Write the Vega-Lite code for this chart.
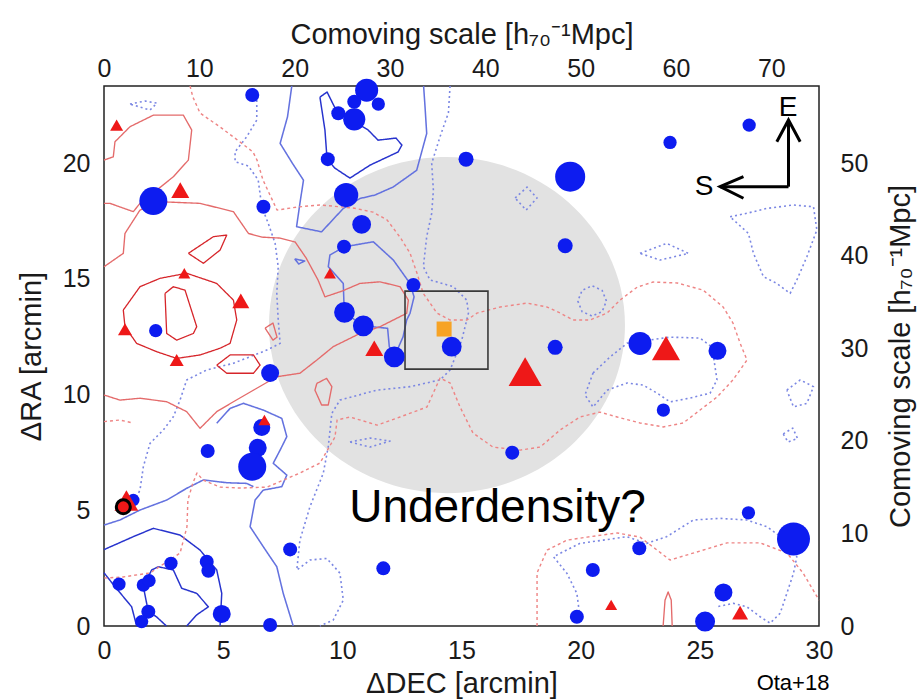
{
  "$schema": "https://vega.github.io/schema/vega-lite/v6.json",
  "width": 715,
  "height": 540,
  "autosize": {"type": "none"},
  "padding": {"left": 104, "top": 86, "right": 99, "bottom": 73},
  "background": "white",
  "config": {
    "view": {"stroke": "#222222", "strokeWidth": 1.5, "fill": "white"},
    "font": "Liberation Sans",
    "axis": {
      "labelFont": "Liberation Sans", "labelFontSize": 25, "labelColor": "#1a1a1a",
      "titleFont": "Liberation Sans", "titleFontSize": 29, "titleFontWeight": "normal", "titleColor": "#1a1a1a",
      "domain": false, "grid": false, "ticks": false,
      "labelOverlap": false, "labelFlush": false, "labelBound": false
    }
  },
  "datasets": {
    "galaxies": [
      {"type":"LAE","x":6.22,"y":22.94,"L":1.0},
      {"type":"LAE","x":11.02,"y":23.15,"L":2.7},
      {"type":"LAE","x":10.5,"y":22.65,"L":1.0},
      {"type":"LAE","x":11.51,"y":22.55,"L":0.9},
      {"type":"LAE","x":9.83,"y":22.15,"L":1.0},
      {"type":"LAE","x":10.5,"y":21.89,"L":2.5},
      {"type":"LAE","x":9.39,"y":20.17,"L":1.0},
      {"type":"LAE","x":10.16,"y":18.62,"L":3.0},
      {"type":"LAE","x":10.81,"y":17.35,"L":1.8},
      {"type":"LAE","x":10.07,"y":16.39,"L":1.0},
      {"type":"LAE","x":12.98,"y":14.73,"L":1.0},
      {"type":"LAE","x":10.09,"y":13.55,"L":2.2},
      {"type":"LAE","x":10.88,"y":12.97,"L":2.2},
      {"type":"LAE","x":12.18,"y":11.63,"L":2.2},
      {"type":"LAE","x":14.59,"y":12.07,"L":2.0},
      {"type":"LAE","x":15.19,"y":20.17,"L":1.15},
      {"type":"LAE","x":19.56,"y":19.41,"L":4.6},
      {"type":"LAE","x":19.35,"y":16.43,"L":1.15},
      {"type":"LAE","x":18.93,"y":12.04,"L":1.15},
      {"type":"LAE","x":6.69,"y":18.11,"L":1.0},
      {"type":"LAE","x":6.97,"y":10.93,"L":1.65},
      {"type":"LAE","x":2.07,"y":18.36,"L":4.0},
      {"type":"LAE","x":2.17,"y":12.76,"L":0.9},
      {"type":"LAE","x":27.07,"y":21.64,"L":0.9},
      {"type":"LAE","x":23.75,"y":20.89,"L":0.9},
      {"type":"LAE","x":22.49,"y":12.21,"L":2.7},
      {"type":"LAE","x":25.74,"y":11.89,"L":1.65},
      {"type":"LAE","x":23.47,"y":9.33,"L":0.9},
      {"type":"LAE","x":27.04,"y":4.89,"L":0.9},
      {"type":"LAE","x":28.93,"y":3.76,"L":5.56},
      {"type":"LAE","x":22.46,"y":3.36,"L":1.0},
      {"type":"LAE","x":20.51,"y":2.42,"L":1.0},
      {"type":"LAE","x":25.99,"y":1.45,"L":1.65},
      {"type":"LAE","x":19.84,"y":0.4,"L":1.0},
      {"type":"LAE","x":25.22,"y":0.19,"L":2.04},
      {"type":"LAE","x":17.13,"y":7.49,"L":1.0},
      {"type":"LAE","x":11.72,"y":2.49,"L":1.0},
      {"type":"LAE","x":7.81,"y":3.31,"L":1.0},
      {"type":"LAE","x":6.97,"y":0.04,"L":1.0},
      {"type":"LAE","x":6.62,"y":8.58,"L":1.47},
      {"type":"LAE","x":4.35,"y":7.56,"L":1.0},
      {"type":"LAE","x":6.45,"y":7.7,"L":1.65},
      {"type":"LAE","x":6.22,"y":6.88,"L":4.0},
      {"type":"LAE","x":1.23,"y":5.44,"L":0.8},
      {"type":"LAE","x":2.81,"y":2.71,"L":0.9},
      {"type":"LAE","x":0.63,"y":1.81,"L":0.9},
      {"type":"LAE","x":1.65,"y":1.77,"L":0.9},
      {"type":"LAE","x":1.89,"y":1.96,"L":0.9},
      {"type":"LAE","x":4.31,"y":2.78,"L":1.0},
      {"type":"LAE","x":4.38,"y":2.39,"L":1.0},
      {"type":"LAE","x":1.86,"y":0.62,"L":1.0},
      {"type":"LAE","x":1.58,"y":0.19,"L":0.9},
      {"type":"LAE","x":4.94,"y":0.52,"L":1.65},
      {"type":"LBG","x":0.53,"y":21.64,"L":0.86},
      {"type":"LBG","x":3.2,"y":18.83,"L":1.65},
      {"type":"LBG","x":3.37,"y":15.24,"L":0.73},
      {"type":"LBG","x":5.74,"y":14.05,"L":1.47},
      {"type":"LBG","x":0.88,"y":12.82,"L":1.0},
      {"type":"LBG","x":3.05,"y":11.49,"L":1.0},
      {"type":"LBG","x":9.48,"y":15.24,"L":0.73},
      {"type":"LBG","x":11.34,"y":12.0,"L":1.65},
      {"type":"LBG","x":17.67,"y":10.99,"L":5.56},
      {"type":"LBG","x":23.58,"y":12.0,"L":4.0},
      {"type":"LBG","x":21.28,"y":0.91,"L":0.73},
      {"type":"LBG","x":26.69,"y":0.58,"L":1.3},
      {"type":"LBG","x":6.73,"y":8.9,"L":0.73},
      {"type":"LBG","x":0.94,"y":5.42,"L":2.9}
    ],
    "contours": [
      {"c":"LAE-high","g":"A1","x":9.06,"y":22.85},{"c":"LAE-high","g":"A1","x":9.36,"y":23.07},{"c":"LAE-high","g":"A1","x":9.78,"y":22.2},{"c":"LAE-high","g":"A1","x":10.41,"y":21.86},{"c":"LAE-high","g":"A1","x":11.08,"y":21.43},{"c":"LAE-high","g":"A1","x":11.5,"y":20.99},{"c":"LAE-high","g":"A1","x":12.25,"y":21.08},{"c":"LAE-high","g":"A1","x":12.5,"y":20.78},{"c":"LAE-high","g":"A1","x":12.34,"y":20.48},{"c":"LAE-high","g":"A1","x":11.16,"y":19.91},{"c":"LAE-high","g":"A1","x":10.32,"y":19.35},{"c":"LAE-high","g":"A1","x":9.69,"y":19.78},{"c":"LAE-high","g":"A1","x":9.36,"y":20.17},{"c":"LAE-high","g":"A1","x":9.27,"y":21.43},{"c":"LAE-high","g":"A1","x":9.06,"y":22.85},
      {"c":"LAE-high","g":"A2a","x":0,"y":3.3},{"c":"LAE-high","g":"A2a","x":1.23,"y":3.86},{"c":"LAE-high","g":"A2a","x":2.07,"y":4.22},{"c":"LAE-high","g":"A2a","x":3.19,"y":3.93},{"c":"LAE-high","g":"A2a","x":4.03,"y":3.28},{"c":"LAE-high","g":"A2a","x":4.73,"y":2.42},{"c":"LAE-high","g":"A2a","x":4.94,"y":1.41},{"c":"LAE-high","g":"A2a","x":4.87,"y":0},
      {"c":"LAE-high","g":"A2b","x":0,"y":2.3},{"c":"LAE-high","g":"A2b","x":0.46,"y":1.7},{"c":"LAE-high","g":"A2b","x":1.16,"y":0.83},{"c":"LAE-high","g":"A2b","x":1.37,"y":0},
      {"c":"LAE-high","g":"A2c","x":3.47,"y":0},{"c":"LAE-high","g":"A2c","x":3.89,"y":0.48},{"c":"LAE-high","g":"A2c","x":4.38,"y":0.83},{"c":"LAE-high","g":"A2c","x":3.89,"y":1.41},{"c":"LAE-high","g":"A2c","x":3.26,"y":1.63},{"c":"LAE-high","g":"A2c","x":2.91,"y":2.42},{"c":"LAE-high","g":"A2c","x":2.28,"y":2.56},{"c":"LAE-high","g":"A2c","x":2.0,"y":2.42},{"c":"LAE-high","g":"A2c","x":1.65,"y":1.7},{"c":"LAE-high","g":"A2c","x":1.86,"y":0.62},{"c":"LAE-high","g":"A2c","x":2.2,"y":0.4},{"c":"LAE-high","g":"A2c","x":2.62,"y":0},
      {"c":"LAE-mid","g":"B1","x":7.88,"y":23.33},{"c":"LAE-mid","g":"B1","x":7.7,"y":22.0},{"c":"LAE-mid","g":"B1","x":7.39,"y":20.85},{"c":"LAE-mid","g":"B1","x":7.9,"y":20.0},{"c":"LAE-mid","g":"B1","x":8.37,"y":19.26},{"c":"LAE-mid","g":"B1","x":8.22,"y":18.26},{"c":"LAE-mid","g":"B1","x":8.08,"y":17.25},{"c":"LAE-mid","g":"B1","x":9.13,"y":17.03},{"c":"LAE-mid","g":"B1","x":10.04,"y":18.04},{"c":"LAE-mid","g":"B1","x":10.74,"y":18.47},{"c":"LAE-mid","g":"B1","x":11.37,"y":18.62},{"c":"LAE-mid","g":"B1","x":12.14,"y":18.97},{"c":"LAE-mid","g":"B1","x":13.12,"y":19.69},{"c":"LAE-mid","g":"B1","x":13.54,"y":21.28},{"c":"LAE-mid","g":"B1","x":13.47,"y":22.43},{"c":"LAE-mid","g":"B1","x":13.41,"y":23.33},
      {"c":"LAE-mid","g":"B2","x":12.18,"y":11.63},{"c":"LAE-mid","g":"B2","x":12.55,"y":12.5},{"c":"LAE-mid","g":"B2","x":12.7,"y":13.22},{"c":"LAE-mid","g":"B2","x":12.84,"y":13.51},{"c":"LAE-mid","g":"B2","x":13.01,"y":14.22},{"c":"LAE-mid","g":"B2","x":12.84,"y":14.8},{"c":"LAE-mid","g":"B2","x":12.14,"y":15.81},{"c":"LAE-mid","g":"B2","x":11.3,"y":16.6},{"c":"LAE-mid","g":"B2","x":10.07,"y":16.38},{"c":"LAE-mid","g":"B2","x":9.48,"y":16.03},{"c":"LAE-mid","g":"B2","x":9.41,"y":15.52},{"c":"LAE-mid","g":"B2","x":10.04,"y":14.8},{"c":"LAE-mid","g":"B2","x":10.08,"y":13.55},{"c":"LAE-mid","g":"B2","x":10.88,"y":12.97},{"c":"LAE-mid","g":"B2","x":11.9,"y":12.86},{"c":"LAE-mid","g":"B2","x":11.97,"y":12.07},{"c":"LAE-mid","g":"B2","x":12.18,"y":11.63},
      {"c":"LAE-mid","g":"B3a","x":4.73,"y":8.76},{"c":"LAE-mid","g":"B3a","x":5.29,"y":9.4},{"c":"LAE-mid","g":"B3a","x":5.85,"y":9.62},{"c":"LAE-mid","g":"B3a","x":6.68,"y":9.33},{"c":"LAE-mid","g":"B3a","x":7.46,"y":8.97},{"c":"LAE-mid","g":"B3a","x":7.67,"y":8.18},{"c":"LAE-mid","g":"B3a","x":7.39,"y":7.6},{"c":"LAE-mid","g":"B3a","x":7.1,"y":7.03},{"c":"LAE-mid","g":"B3a","x":7.67,"y":6.52},{"c":"LAE-mid","g":"B3a","x":7.46,"y":6.02},{"c":"LAE-mid","g":"B3a","x":6.68,"y":5.87},{"c":"LAE-mid","g":"B3a","x":6.34,"y":5.44},{"c":"LAE-mid","g":"B3a","x":6.13,"y":4.29},{"c":"LAE-mid","g":"B3a","x":6.68,"y":3.43},{"c":"LAE-mid","g":"B3a","x":7.25,"y":2.56},{"c":"LAE-mid","g":"B3a","x":7.52,"y":1.41},{"c":"LAE-mid","g":"B3a","x":7.94,"y":0},
      {"c":"LAE-mid","g":"B3b","x":0,"y":4.36},{"c":"LAE-mid","g":"B3b","x":0.67,"y":4.58},{"c":"LAE-mid","g":"B3b","x":1.51,"y":5.01},{"c":"LAE-mid","g":"B3b","x":2.63,"y":5.44},{"c":"LAE-mid","g":"B3b","x":3.47,"y":5.95},{"c":"LAE-mid","g":"B3b","x":4.17,"y":6.31},{"c":"LAE-mid","g":"B3b","x":5.15,"y":6.19},{"c":"LAE-mid","g":"B3b","x":5.99,"y":6.16},{"c":"LAE-mid","g":"B3b","x":6.27,"y":6.02},
      {"c":"LAE-mid","g":"B5","x":8.0,"y":15.86},{"c":"LAE-mid","g":"B5","x":8.42,"y":15.77},{"c":"LAE-mid","g":"B5","x":8.17,"y":15.64},{"c":"LAE-mid","g":"B5","x":8.0,"y":15.86},
      {"c":"LAE-low","g":"C1","x":1.09,"y":22.55},{"c":"LAE-low","g":"C1","x":1.72,"y":22.68},{"c":"LAE-low","g":"C1","x":2.22,"y":22.59},{"c":"LAE-low","g":"C1","x":1.93,"y":22.29},{"c":"LAE-low","g":"C1","x":1.09,"y":22.55},
      {"c":"LAE-low","g":"C2","x":6.41,"y":22.72},{"c":"LAE-low","g":"C2","x":6.41,"y":21.86},{"c":"LAE-low","g":"C2","x":5.99,"y":21.14},{"c":"LAE-low","g":"C2","x":5.5,"y":20.49},{"c":"LAE-low","g":"C2","x":5.5,"y":20.06},{"c":"LAE-low","g":"C2","x":6.06,"y":19.87},{"c":"LAE-low","g":"C2","x":6.47,"y":19.27},{"c":"LAE-low","g":"C2","x":6.62,"y":18.11},{"c":"LAE-low","g":"C2","x":6.89,"y":17.4},{"c":"LAE-low","g":"C2","x":7.18,"y":16.53},{"c":"LAE-low","g":"C2","x":7.31,"y":15.52},{"c":"LAE-low","g":"C2","x":7.25,"y":14.37},{"c":"LAE-low","g":"C2","x":7.31,"y":13.22},{"c":"LAE-low","g":"C2","x":7.39,"y":12.21},{"c":"LAE-low","g":"C2","x":6.83,"y":11.92},{"c":"LAE-low","g":"C2","x":5.43,"y":11.35},{"c":"LAE-low","g":"C2","x":4.31,"y":11.06},{"c":"LAE-low","g":"C2","x":3.47,"y":10.63},{"c":"LAE-low","g":"C2","x":3.19,"y":9.76},{"c":"LAE-low","g":"C2","x":2.91,"y":9.04},{"c":"LAE-low","g":"C2","x":2.49,"y":8.47},{"c":"LAE-low","g":"C2","x":1.93,"y":7.89},{"c":"LAE-low","g":"C2","x":1.65,"y":6.88},{"c":"LAE-low","g":"C2","x":1.51,"y":5.87},{"c":"LAE-low","g":"C2","x":1.37,"y":5.59},
      {"c":"LAE-low","g":"C3","x":14.52,"y":23.33},{"c":"LAE-low","g":"C3","x":14.45,"y":22.17},{"c":"LAE-low","g":"C3","x":14.1,"y":21.14},{"c":"LAE-low","g":"C3","x":13.75,"y":19.99},{"c":"LAE-low","g":"C3","x":13.82,"y":18.83},{"c":"LAE-low","g":"C3","x":13.75,"y":17.83},{"c":"LAE-low","g":"C3","x":13.54,"y":16.82},{"c":"LAE-low","g":"C3","x":13.4,"y":15.52},{"c":"LAE-low","g":"C3","x":13.68,"y":14.95},{"c":"LAE-low","g":"C3","x":14.66,"y":14.66},{"c":"LAE-low","g":"C3","x":15.22,"y":14.08},{"c":"LAE-low","g":"C3","x":15.29,"y":13.51},{"c":"LAE-low","g":"C3","x":15.01,"y":12.35},{"c":"LAE-low","g":"C3","x":14.8,"y":11.78},{"c":"LAE-low","g":"C3","x":14.52,"y":11.06},{"c":"LAE-low","g":"C3","x":14.1,"y":10.63},{"c":"LAE-low","g":"C3","x":12.84,"y":10.34},{"c":"LAE-low","g":"C3","x":11.44,"y":10.19},{"c":"LAE-low","g":"C3","x":9.9,"y":9.76},{"c":"LAE-low","g":"C3","x":9.56,"y":9.19},{"c":"LAE-low","g":"C3","x":9.41,"y":7.75},{"c":"LAE-low","g":"C3","x":9.2,"y":6.6},{"c":"LAE-low","g":"C3","x":8.64,"y":5.15},{"c":"LAE-low","g":"C3","x":8.22,"y":3.71},{"c":"LAE-low","g":"C3","x":8.09,"y":2.42},{"c":"LAE-low","g":"C3","x":8.64,"y":2.85},{"c":"LAE-low","g":"C3","x":9.35,"y":2.92},{"c":"LAE-low","g":"C3","x":9.9,"y":2.28},{"c":"LAE-low","g":"C3","x":10.04,"y":1.12},{"c":"LAE-low","g":"C3","x":9.62,"y":0.26},{"c":"LAE-low","g":"C3","x":9.06,"y":0},
      {"c":"LAE-low","g":"C4","x":21.08,"y":14.04},{"c":"LAE-low","g":"C4","x":20.9,"y":14.5},{"c":"LAE-low","g":"C4","x":20.48,"y":14.7},{"c":"LAE-low","g":"C4","x":20.06,"y":14.5},{"c":"LAE-low","g":"C4","x":19.88,"y":14.04},{"c":"LAE-low","g":"C4","x":20.06,"y":13.58},{"c":"LAE-low","g":"C4","x":20.48,"y":13.39},{"c":"LAE-low","g":"C4","x":20.9,"y":13.58},{"c":"LAE-low","g":"C4","x":21.08,"y":14.04},
      {"c":"LAE-low","g":"C5","x":17.25,"y":18.49},{"c":"LAE-low","g":"C5","x":17.75,"y":18.96},{"c":"LAE-low","g":"C5","x":18.17,"y":18.49},{"c":"LAE-low","g":"C5","x":17.71,"y":17.97},{"c":"LAE-low","g":"C5","x":17.25,"y":18.49},
      {"c":"LAE-low","g":"C6","x":22.49,"y":16.1},{"c":"LAE-low","g":"C6","x":23.61,"y":16.53},{"c":"LAE-low","g":"C6","x":24.52,"y":16.1},{"c":"LAE-low","g":"C6","x":23.33,"y":15.81},{"c":"LAE-low","g":"C6","x":22.49,"y":16.1},
      {"c":"LAE-low","g":"C6b","x":26.27,"y":17.68},{"c":"LAE-low","g":"C6b","x":26.97,"y":17.83},{"c":"LAE-low","g":"C6b","x":27.81,"y":18.04},{"c":"LAE-low","g":"C6b","x":28.93,"y":18.19},{"c":"LAE-low","g":"C6b","x":29.77,"y":18.11},{"c":"LAE-low","g":"C6b","x":29.91,"y":17.11},{"c":"LAE-low","g":"C6b","x":29.49,"y":15.95},{"c":"LAE-low","g":"C6b","x":29.07,"y":14.95},{"c":"LAE-low","g":"C6b","x":28.79,"y":14.37},{"c":"LAE-low","g":"C6b","x":28.23,"y":14.8},{"c":"LAE-low","g":"C6b","x":27.67,"y":15.09},{"c":"LAE-low","g":"C6b","x":27.25,"y":16.1},{"c":"LAE-low","g":"C6b","x":27.04,"y":16.96},{"c":"LAE-low","g":"C6b","x":26.27,"y":17.68},
      {"c":"LAE-low","g":"C7","x":20.52,"y":10.93},{"c":"LAE-low","g":"C7","x":21.23,"y":11.62},{"c":"LAE-low","g":"C7","x":21.95,"y":12.22},{"c":"LAE-low","g":"C7","x":23.75,"y":12.48},{"c":"LAE-low","g":"C7","x":25.01,"y":12.44},{"c":"LAE-low","g":"C7","x":25.51,"y":12.05},{"c":"LAE-low","g":"C7","x":25.55,"y":11.79},{"c":"LAE-low","g":"C7","x":25.72,"y":10.63},{"c":"LAE-low","g":"C7","x":25.43,"y":10.06},{"c":"LAE-low","g":"C7","x":24.59,"y":9.85},{"c":"LAE-low","g":"C7","x":23.75,"y":9.68},{"c":"LAE-low","g":"C7","x":23.21,"y":10.06},{"c":"LAE-low","g":"C7","x":22.62,"y":10.41},{"c":"LAE-low","g":"C7","x":21.95,"y":10.5},{"c":"LAE-low","g":"C7","x":21.11,"y":10.19},{"c":"LAE-low","g":"C7","x":20.52,"y":9.46},{"c":"LAE-low","g":"C7","x":20.18,"y":9.98},{"c":"LAE-low","g":"C7","x":20.52,"y":10.93},
      {"c":"LAE-low","g":"C8","x":19.97,"y":0.4},{"c":"LAE-low","g":"C8","x":19.84,"y":1.41},{"c":"LAE-low","g":"C8","x":19.42,"y":2.28},{"c":"LAE-low","g":"C8","x":18.86,"y":2.99},{"c":"LAE-low","g":"C8","x":19.14,"y":3.14},{"c":"LAE-low","g":"C8","x":19.97,"y":3.57},{"c":"LAE-low","g":"C8","x":20.95,"y":3.71},{"c":"LAE-low","g":"C8","x":21.93,"y":3.86},{"c":"LAE-low","g":"C8","x":22.77,"y":3.57},{"c":"LAE-low","g":"C8","x":23.61,"y":3.86},{"c":"LAE-low","g":"C8","x":24.73,"y":4.58},{"c":"LAE-low","g":"C8","x":25.84,"y":4.65},{"c":"LAE-low","g":"C8","x":26.97,"y":4.58},{"c":"LAE-low","g":"C8","x":27.81,"y":4.29},{"c":"LAE-low","g":"C8","x":28.79,"y":3.57},{"c":"LAE-low","g":"C8","x":29.07,"y":2.99},{"c":"LAE-low","g":"C8","x":28.93,"y":2.28},{"c":"LAE-low","g":"C8","x":28.65,"y":1.41},{"c":"LAE-low","g":"C8","x":28.37,"y":0.55},{"c":"LAE-low","g":"C8","x":27.95,"y":0.12},{"c":"LAE-low","g":"C8","x":27.53,"y":0.4},{"c":"LAE-low","g":"C8","x":26.97,"y":0.83},{"c":"LAE-low","g":"C8","x":26.41,"y":0.98},{"c":"LAE-low","g":"C8","x":25.71,"y":0.83},
      {"c":"LAE-low","g":"C9","x":28.65,"y":10.19},{"c":"LAE-low","g":"C9","x":29.21,"y":10.63},{"c":"LAE-low","g":"C9","x":29.77,"y":10.34},{"c":"LAE-low","g":"C9","x":29.49,"y":9.62},{"c":"LAE-low","g":"C9","x":28.93,"y":9.47},{"c":"LAE-low","g":"C9","x":28.65,"y":10.19},
      {"c":"LAE-low","g":"C9b","x":28.5,"y":8.3},{"c":"LAE-low","g":"C9b","x":28.9,"y":8.55},{"c":"LAE-low","g":"C9b","x":29.1,"y":8.1},{"c":"LAE-low","g":"C9b","x":28.7,"y":7.95},{"c":"LAE-low","g":"C9b","x":28.5,"y":8.3},
      {"c":"LAE-low","g":"C10","x":10.32,"y":7.95},{"c":"LAE-low","g":"C10","x":11.16,"y":8.12},{"c":"LAE-low","g":"C10","x":12.0,"y":7.99},{"c":"LAE-low","g":"C10","x":11.16,"y":7.73},{"c":"LAE-low","g":"C10","x":10.32,"y":7.95},
      {"c":"LBG-mid","g":"D1","x":0,"y":20.13},{"c":"LBG-mid","g":"D1","x":0.39,"y":20.27},{"c":"LBG-mid","g":"D1","x":0.46,"y":20.92},{"c":"LBG-mid","g":"D1","x":1.09,"y":21.57},{"c":"LBG-mid","g":"D1","x":2.07,"y":22.07},{"c":"LBG-mid","g":"D1","x":3.33,"y":22.07},{"c":"LBG-mid","g":"D1","x":3.68,"y":21.43},{"c":"LBG-mid","g":"D1","x":3.54,"y":20.13},{"c":"LBG-mid","g":"D1","x":2.91,"y":19.41},{"c":"LBG-mid","g":"D1","x":2.21,"y":18.83},{"c":"LBG-mid","g":"D1","x":1.51,"y":18.26},{"c":"LBG-mid","g":"D1","x":1.23,"y":17.9},{"c":"LBG-mid","g":"D1","x":0.25,"y":18.26},{"c":"LBG-mid","g":"D1","x":0,"y":18.26},
      {"c":"LBG-mid","g":"D2","x":0,"y":15.52},{"c":"LBG-mid","g":"D2","x":0.81,"y":16.1},{"c":"LBG-mid","g":"D2","x":0.88,"y":16.96},{"c":"LBG-mid","g":"D2","x":1.51,"y":17.97},{"c":"LBG-mid","g":"D2","x":2.35,"y":18.33},{"c":"LBG-mid","g":"D2","x":4.03,"y":18.26},{"c":"LBG-mid","g":"D2","x":5.43,"y":17.9},{"c":"LBG-mid","g":"D2","x":6.06,"y":16.96},{"c":"LBG-mid","g":"D2","x":6.63,"y":16.8},{"c":"LBG-mid","g":"D2","x":7.39,"y":16.76},{"c":"LBG-mid","g":"D2","x":8.02,"y":16.59},{"c":"LBG-mid","g":"D2","x":8.48,"y":15.9},{"c":"LBG-mid","g":"D2","x":8.98,"y":14.95},{"c":"LBG-mid","g":"D2","x":9.27,"y":14.22},{"c":"LBG-mid","g":"D2","x":9.99,"y":14.47},{"c":"LBG-mid","g":"D2","x":10.74,"y":14.8},{"c":"LBG-mid","g":"D2","x":11.58,"y":14.87},{"c":"LBG-mid","g":"D2","x":12.42,"y":14.66},{"c":"LBG-mid","g":"D2","x":12.77,"y":14.08},{"c":"LBG-mid","g":"D2","x":12.7,"y":13.51},{"c":"LBG-mid","g":"D2","x":11.58,"y":12.93},{"c":"LBG-mid","g":"D2","x":10.74,"y":12.64},{"c":"LBG-mid","g":"D2","x":9.62,"y":12.07},{"c":"LBG-mid","g":"D2","x":8.93,"y":11.49},{"c":"LBG-mid","g":"D2","x":8.22,"y":10.92},{"c":"LBG-mid","g":"D2","x":7.25,"y":10.77},{"c":"LBG-mid","g":"D2","x":6.27,"y":10.19},{"c":"LBG-mid","g":"D2","x":5.43,"y":9.69},{"c":"LBG-mid","g":"D2","x":4.73,"y":9.26},{"c":"LBG-mid","g":"D2","x":4.03,"y":8.54},{"c":"LBG-mid","g":"D2","x":3.47,"y":9.26},{"c":"LBG-mid","g":"D2","x":2.63,"y":9.69},{"c":"LBG-mid","g":"D2","x":1.51,"y":9.84},{"c":"LBG-mid","g":"D2","x":0.67,"y":9.76},{"c":"LBG-mid","g":"D2","x":0,"y":9.98},
      {"c":"LBG-mid","g":"D3","x":6.76,"y":12.87},{"c":"LBG-mid","g":"D3","x":7.09,"y":13.09},{"c":"LBG-mid","g":"D3","x":7.26,"y":12.48},{"c":"LBG-mid","g":"D3","x":7.09,"y":12.35},{"c":"LBG-mid","g":"D3","x":6.76,"y":12.87},
      {"c":"LBG-mid","g":"D3b","x":8.93,"y":10.48},{"c":"LBG-mid","g":"D3b","x":9.34,"y":10.7},{"c":"LBG-mid","g":"D3b","x":9.56,"y":10.34},{"c":"LBG-mid","g":"D3b","x":9.41,"y":9.55},{"c":"LBG-mid","g":"D3b","x":9.13,"y":9.55},{"c":"LBG-mid","g":"D3b","x":8.85,"y":10.19},{"c":"LBG-mid","g":"D3b","x":8.93,"y":10.48},
      {"c":"LBG-mid","g":"D4","x":23.46,"y":0},{"c":"LBG-mid","g":"D4","x":23.54,"y":1.12},{"c":"LBG-mid","g":"D4","x":23.67,"y":1.47},{"c":"LBG-mid","g":"D4","x":23.8,"y":1.12},{"c":"LBG-mid","g":"D4","x":23.84,"y":0},
      {"c":"LBG-high","g":"E1","x":0.81,"y":13.65},{"c":"LBG-high","g":"E1","x":1.51,"y":14.66},{"c":"LBG-high","g":"E1","x":2.35,"y":15.02},{"c":"LBG-high","g":"E1","x":3.47,"y":15.24},{"c":"LBG-high","g":"E1","x":4.73,"y":14.8},{"c":"LBG-high","g":"E1","x":5.43,"y":14.08},{"c":"LBG-high","g":"E1","x":5.57,"y":13.22},{"c":"LBG-high","g":"E1","x":5.29,"y":12.21},{"c":"LBG-high","g":"E1","x":4.87,"y":12.0},{"c":"LBG-high","g":"E1","x":4.03,"y":11.71},{"c":"LBG-high","g":"E1","x":3.05,"y":11.56},{"c":"LBG-high","g":"E1","x":2.21,"y":11.85},{"c":"LBG-high","g":"E1","x":1.37,"y":12.21},{"c":"LBG-high","g":"E1","x":0.88,"y":12.93},{"c":"LBG-high","g":"E1","x":0.81,"y":13.65},
      {"c":"LBG-high","g":"E2","x":2.56,"y":14.37},{"c":"LBG-high","g":"E2","x":2.91,"y":14.66},{"c":"LBG-high","g":"E2","x":3.4,"y":14.51},{"c":"LBG-high","g":"E2","x":3.89,"y":12.93},{"c":"LBG-high","g":"E2","x":3.75,"y":12.64},{"c":"LBG-high","g":"E2","x":3.05,"y":12.35},{"c":"LBG-high","g":"E2","x":2.63,"y":12.64},{"c":"LBG-high","g":"E2","x":2.56,"y":14.37},
      {"c":"LBG-high","g":"E3","x":3.54,"y":16.1},{"c":"LBG-high","g":"E3","x":4.59,"y":16.82},{"c":"LBG-high","g":"E3","x":5.15,"y":16.89},{"c":"LBG-high","g":"E3","x":4.87,"y":16.24},{"c":"LBG-high","g":"E3","x":4.17,"y":15.67},{"c":"LBG-high","g":"E3","x":3.54,"y":16.1},
      {"c":"LBG-high","g":"E4","x":4.73,"y":11.27},{"c":"LBG-high","g":"E4","x":5.29,"y":11.71},{"c":"LBG-high","g":"E4","x":6.27,"y":11.71},{"c":"LBG-high","g":"E4","x":6.55,"y":11.27},{"c":"LBG-high","g":"E4","x":6.27,"y":10.92},{"c":"LBG-high","g":"E4","x":5.15,"y":10.92},{"c":"LBG-high","g":"E4","x":4.73,"y":11.27},
      {"c":"LBG-low","g":"F1","x":3.61,"y":23.33},{"c":"LBG-low","g":"F1","x":3.73,"y":22.85},{"c":"LBG-low","g":"F1","x":4.03,"y":22.16},{"c":"LBG-low","g":"F1","x":4.87,"y":21.56},{"c":"LBG-low","g":"F1","x":5.71,"y":20.91},{"c":"LBG-low","g":"F1","x":6.25,"y":20.48},{"c":"LBG-low","g":"F1","x":6.42,"y":20.13},{"c":"LBG-low","g":"F1","x":6.67,"y":19.27},{"c":"LBG-low","g":"F1","x":7.26,"y":17.97},{"c":"LBG-low","g":"F1","x":8.1,"y":18.1},{"c":"LBG-low","g":"F1","x":9.06,"y":18.19},{"c":"LBG-low","g":"F1","x":10.45,"y":18.06},{"c":"LBG-low","g":"F1","x":11.29,"y":17.88},{"c":"LBG-low","g":"F1","x":11.88,"y":17.54},{"c":"LBG-low","g":"F1","x":12.42,"y":16.8},{"c":"LBG-low","g":"F1","x":12.84,"y":16.11},{"c":"LBG-low","g":"F1","x":13.13,"y":15.25},{"c":"LBG-low","g":"F1","x":13.39,"y":14.38},{"c":"LBG-low","g":"F1","x":13.97,"y":13.52},{"c":"LBG-low","g":"F1","x":14.52,"y":13.22},{"c":"LBG-low","g":"F1","x":15.23,"y":13.22},{"c":"LBG-low","g":"F1","x":15.65,"y":13.52},{"c":"LBG-low","g":"F1","x":16.62,"y":13.78},{"c":"LBG-low","g":"F1","x":17.75,"y":13.95},{"c":"LBG-low","g":"F1","x":18.59,"y":13.78},{"c":"LBG-low","g":"F1","x":19.14,"y":13.52},{"c":"LBG-low","g":"F1","x":19.68,"y":13.22},{"c":"LBG-low","g":"F1","x":20.39,"y":13.22},{"c":"LBG-low","g":"F1","x":21.11,"y":13.52},{"c":"LBG-low","g":"F1","x":21.65,"y":14.08},{"c":"LBG-low","g":"F1","x":22.37,"y":14.64},{"c":"LBG-low","g":"F1","x":23.04,"y":14.86},{"c":"LBG-low","g":"F1","x":24.05,"y":14.82},{"c":"LBG-low","g":"F1","x":25.14,"y":14.51},{"c":"LBG-low","g":"F1","x":25.98,"y":13.78},{"c":"LBG-low","g":"F1","x":26.39,"y":13.09},{"c":"LBG-low","g":"F1","x":26.69,"y":12.22},{"c":"LBG-low","g":"F1","x":26.98,"y":11.49},{"c":"LBG-low","g":"F1","x":26.39,"y":10.63},{"c":"LBG-low","g":"F1","x":25.72,"y":9.89},{"c":"LBG-low","g":"F1","x":25.01,"y":9.33},{"c":"LBG-low","g":"F1","x":24.3,"y":8.77},{"c":"LBG-low","g":"F1","x":23.46,"y":8.6},{"c":"LBG-low","g":"F1","x":22.49,"y":8.77},{"c":"LBG-low","g":"F1","x":21.53,"y":9.03},{"c":"LBG-low","g":"F1","x":20.81,"y":9.24},{"c":"LBG-low","g":"F1","x":19.97,"y":9.03},{"c":"LBG-low","g":"F1","x":19.14,"y":8.47},{"c":"LBG-low","g":"F1","x":18.3,"y":7.73},{"c":"LBG-low","g":"F1","x":17.46,"y":7.6},{"c":"LBG-low","g":"F1","x":16.32,"y":7.73},{"c":"LBG-low","g":"F1","x":15.48,"y":8.34},{"c":"LBG-low","g":"F1","x":14.94,"y":9.46},{"c":"LBG-low","g":"F1","x":14.52,"y":10.5},{"c":"LBG-low","g":"F1","x":14.1,"y":10.71},{"c":"LBG-low","g":"F1","x":13.55,"y":9.46},{"c":"LBG-low","g":"F1","x":12.42,"y":9.03},{"c":"LBG-low","g":"F1","x":11.46,"y":8.68},{"c":"LBG-low","g":"F1","x":10.32,"y":9.03},{"c":"LBG-low","g":"F1","x":9.78,"y":8.9},{"c":"LBG-low","g":"F1","x":9.69,"y":8.16},{"c":"LBG-low","g":"F1","x":9.06,"y":7.04},{"c":"LBG-low","g":"F1","x":8.22,"y":6.61},{"c":"LBG-low","g":"F1","x":6.84,"y":6.0},{"c":"LBG-low","g":"F1","x":5.71,"y":5.96},{"c":"LBG-low","g":"F1","x":4.87,"y":6.0},{"c":"LBG-low","g":"F1","x":4.15,"y":6.31},{"c":"LBG-low","g":"F1","x":3.9,"y":6.61},{"c":"LBG-low","g":"F1","x":3.73,"y":6.18},{"c":"LBG-low","g":"F1","x":3.52,"y":5.44},{"c":"LBG-low","g":"F1","x":3.48,"y":4.28},{"c":"LBG-low","g":"F1","x":3.19,"y":3.15},{"c":"LBG-low","g":"F1","x":1.93,"y":2.29},{"c":"LBG-low","g":"F1","x":0.8,"y":2.12},{"c":"LBG-low","g":"F1","x":0,"y":2.07},
      {"c":"LBG-low","g":"F2","x":18.17,"y":0},{"c":"LBG-low","g":"F2","x":18.17,"y":2.29},{"c":"LBG-low","g":"F2","x":18.59,"y":3.28},{"c":"LBG-low","g":"F2","x":19.43,"y":3.71},{"c":"LBG-low","g":"F2","x":20.27,"y":3.84},{"c":"LBG-low","g":"F2","x":21.53,"y":4.02},{"c":"LBG-low","g":"F2","x":22.49,"y":3.84},{"c":"LBG-low","g":"F2","x":23.04,"y":3.41},{"c":"LBG-low","g":"F2","x":23.75,"y":2.85},{"c":"LBG-low","g":"F2","x":24.72,"y":3.15},{"c":"LBG-low","g":"F2","x":26.14,"y":3.59},{"c":"LBG-low","g":"F2","x":27.53,"y":3.59},{"c":"LBG-low","g":"F2","x":28.66,"y":3.15},{"c":"LBG-low","g":"F2","x":29.33,"y":2.29},{"c":"LBG-low","g":"F2","x":29.75,"y":1.56},{"c":"LBG-low","g":"F2","x":30,"y":1.12},
      {"c":"LBG-low","g":"F3","x":0,"y":8.83},{"c":"LBG-low","g":"F3","x":0.67,"y":8.9},{"c":"LBG-low","g":"F3","x":1.22,"y":8.77}
    ],
    "compass": [
      {"g":"E","x":28.72,"y":18.98},{"g":"E","x":28.72,"y":21.86},
      {"g":"Eh","x":28.23,"y":20.92},{"g":"Eh","x":28.72,"y":21.86},{"g":"Eh","x":29.21,"y":20.92},
      {"g":"S","x":28.72,"y":18.98},{"g":"S","x":25.85,"y":18.98},
      {"g":"Sh","x":26.83,"y":19.41},{"g":"Sh","x":25.85,"y":18.98},{"g":"Sh","x":26.83,"y":18.48}
    ],
    "dec_ticks": [
      {"x":0},{"x":1},{"x":2},{"x":3},{"x":4},{"x":5},{"x":6},{"x":7},{"x":8},{"x":9},{"x":10},{"x":11},{"x":12},{"x":13},{"x":14},{"x":15},
      {"x":16},{"x":17},{"x":18},{"x":19},{"x":20},{"x":21},{"x":22},{"x":23},{"x":24},{"x":25},{"x":26},{"x":27},{"x":28},{"x":29},{"x":30}
    ],
    "ra_ticks": [
      {"y":0},{"y":1},{"y":2},{"y":3},{"y":4},{"y":5},{"y":6},{"y":7},{"y":8},{"y":9},{"y":10},{"y":11},
      {"y":12},{"y":13},{"y":14},{"y":15},{"y":16},{"y":17},{"y":18},{"y":19},{"y":20},{"y":21},{"y":22},{"y":23}
    ],
    "mpc_x_ticks": [
      {"mpc_x":0},{"mpc_x":2},{"mpc_x":4},{"mpc_x":6},{"mpc_x":8},{"mpc_x":10},{"mpc_x":12},{"mpc_x":14},{"mpc_x":16},{"mpc_x":18},
      {"mpc_x":20},{"mpc_x":22},{"mpc_x":24},{"mpc_x":26},{"mpc_x":28},{"mpc_x":30},{"mpc_x":32},{"mpc_x":34},{"mpc_x":36},{"mpc_x":38},
      {"mpc_x":40},{"mpc_x":42},{"mpc_x":44},{"mpc_x":46},{"mpc_x":48},{"mpc_x":50},{"mpc_x":52},{"mpc_x":54},{"mpc_x":56},{"mpc_x":58},
      {"mpc_x":60},{"mpc_x":62},{"mpc_x":64},{"mpc_x":66},{"mpc_x":68},{"mpc_x":70},{"mpc_x":72},{"mpc_x":74}
    ],
    "mpc_y_ticks": [
      {"mpc_y":0},{"mpc_y":2},{"mpc_y":4},{"mpc_y":6},{"mpc_y":8},{"mpc_y":10},{"mpc_y":12},{"mpc_y":14},{"mpc_y":16},{"mpc_y":18},
      {"mpc_y":20},{"mpc_y":22},{"mpc_y":24},{"mpc_y":26},{"mpc_y":28},{"mpc_y":30},{"mpc_y":32},{"mpc_y":34},{"mpc_y":36},{"mpc_y":38},
      {"mpc_y":40},{"mpc_y":42},{"mpc_y":44},{"mpc_y":46},{"mpc_y":48},{"mpc_y":50},{"mpc_y":52},{"mpc_y":54},{"mpc_y":56},{"mpc_y":58}
    ]
  },
  "layer": [
    {
      "encoding": {
        "x": {
          "field": "x", "type": "quantitative",
          "scale": {"domain": [0, 30], "nice": false, "zero": false},
          "axis": {
            "orient": "bottom", "title": "ΔDEC [arcmin]",
            "values": [0, 5, 10, 15, 20, 25, 30],
            "format": "d",
            "labelPadding": 12,
            "titleX": 357.5, "titleY": 57, "titleBaseline": "middle", "titleAlign": "center"
          }
        },
        "y": {
          "field": "y", "type": "quantitative",
          "scale": {"domain": [0, 23.33], "nice": false, "zero": false},
          "axis": {
            "orient": "left", "title": "ΔRA [arcmin]",
            "values": [0, 5, 10, 15, 20],
            "format": "d",
            "labelPadding": 14,
            "titleX": -73, "titleY": 270, "titleAngle": 270, "titleBaseline": "middle", "titleAlign": "center"
          }
        }
      },
      "layer": [
        {
          "data": {"values": [{"x": 14.39, "y": 13.0}]},
          "mark": {"type": "point", "shape": "M-1,0A1,0.944,0,1,0,1,0A1,0.944,0,1,0,-1,0Z", "filled": true, "fill": "#e2e2e2", "opacity": 1, "strokeWidth": 0, "size": 126736}
        },
        {
          "data": {"name": "contours"},
          "mark": {"type": "line", "strokeJoin": "round"},
          "encoding": {
            "detail": {"field": "g", "type": "nominal"},
            "order": {"value": null},
            "stroke": {"field": "c", "type": "nominal", "legend": null,
              "scale": {"domain": ["LAE-low","LAE-mid","LAE-high","LBG-low","LBG-mid","LBG-high"],
                        "range": ["#7b87e3","#6472df","#2733cd","#ee8585","#e46b6b","#d6252a"]}},
            "strokeDash": {"field": "c", "type": "nominal", "legend": null,
              "scale": {"domain": ["LAE-low","LAE-mid","LAE-high","LBG-low","LBG-mid","LBG-high"],
                        "range": [[2,3],[1,0],[1,0],[3,3],[1,0],[1,0]]}},
            "strokeWidth": {"field": "c", "type": "ordinal", "legend": null,
              "scale": {"domain": ["LAE-low","LAE-mid","LAE-high","LBG-low","LBG-mid","LBG-high"],
                        "range": [1.6,1.3,2.6,1.5,1.3,2.4]}}
          }
        },
        {
          "data": {"values": [{"x": 12.63, "x2": 16.11, "y": 11.1, "y2": 14.47}]},
          "mark": {"type": "rect", "fillOpacity": 0, "stroke": "#3a3a3a", "strokeWidth": 1.6},
          "encoding": {
            "x2": {"field": "x2"},
            "y2": {"field": "y2"}
          }
        },
        {
          "data": {"values": [{"x": 14.27, "y": 12.83}]},
          "mark": {"type": "point", "shape": "square", "filled": true, "fill": "#f7a325", "opacity": 1, "strokeWidth": 0, "size": 225}
        },
        {
          "data": {"name": "galaxies"},
          "mark": {"type": "point", "filled": true, "opacity": 1, "strokeWidth": 0},
          "encoding": {
            "fill": {"field": "type", "type": "nominal", "legend": null,
              "scale": {"domain": ["LAE", "LBG"], "range": ["#0d1cf0", "#ee1818"]}},
            "shape": {"field": "type", "type": "nominal", "legend": null,
              "scale": {"domain": ["LAE", "LBG"], "range": ["circle", "triangle-up"]}},
            "size": {"field": "L", "type": "quantitative", "legend": null,
              "scale": {"domain": [0, 6], "range": [0, 1176]}}
          }
        },
        {
          "data": {"values": [{"x": 0.81, "y": 5.15, "L": 1.0}]},
          "mark": {"type": "point", "shape": "circle", "filled": true, "fill": "#ee1818", "stroke": "#000000", "strokeWidth": 3, "opacity": 1},
          "encoding": {
            "size": {"field": "L", "type": "quantitative", "legend": null,
              "scale": {"domain": [0, 6], "range": [0, 1176]}}
          }
        },
        {
          "data": {"name": "compass"},
          "mark": {"type": "line", "color": "#000000", "strokeWidth": 3, "strokeJoin": "miter", "strokeCap": "butt"},
          "encoding": {
            "detail": {"field": "g", "type": "nominal"},
            "order": {"value": null}
          }
        },
        {
          "data": {"values": [{"x": 28.7, "y": 22.4, "t": "E"}, {"x": 25.18, "y": 18.96, "t": "S"}]},
          "mark": {"type": "text", "font": "Liberation Sans", "fontSize": 28, "color": "#000000", "align": "center", "baseline": "middle"},
          "encoding": {"text": {"field": "t"}}
        },
        {
          "data": {"values": [{"x": 16.51, "y": 4.51, "t": "Underdensity?"}]},
          "mark": {"type": "text", "font": "Liberation Sans", "fontSize": 46, "color": "#000000", "align": "center", "baseline": "alphabetic"},
          "encoding": {"text": {"field": "t"}}
        },
        {
          "data": {"values": [{"x": 28.91, "y": -2.46, "t": "Ota+18"}]},
          "mark": {"type": "text", "font": "Liberation Sans", "fontSize": 22, "color": "#000000", "align": "center", "baseline": "middle"},
          "encoding": {"text": {"field": "t"}}
        },
        {
          "data": {"name": "dec_ticks"},
          "mark": {"type": "rule", "color": "#111111", "strokeWidth": 1.6, "opacity": 1},
          "encoding": {"y": {"datum": 0, "type": "quantitative"}, "y2": {"datum": 0.18}}
        },
        {
          "data": {"name": "dec_ticks"},
          "transform": [{"filter": "datum.x % 5 === 0"}],
          "mark": {"type": "rule", "color": "#111111", "strokeWidth": 1.6, "opacity": 1},
          "encoding": {"y": {"datum": 0, "type": "quantitative"}, "y2": {"datum": 0.35}}
        },
        {
          "data": {"name": "ra_ticks"},
          "mark": {"type": "rule", "color": "#111111", "strokeWidth": 1.6, "opacity": 1},
          "encoding": {"x": {"datum": 0, "type": "quantitative"}, "x2": {"datum": 0.17}}
        },
        {
          "data": {"name": "ra_ticks"},
          "transform": [{"filter": "datum.y % 5 === 0"}],
          "mark": {"type": "rule", "color": "#111111", "strokeWidth": 1.6, "opacity": 1},
          "encoding": {"x": {"datum": 0, "type": "quantitative"}, "x2": {"datum": 0.34}}
        }
      ]
    },
    {
      "encoding": {
        "x": {
          "field": "mpc_x", "type": "quantitative",
          "scale": {"domain": [0, 75], "nice": false, "zero": false},
          "axis": {
            "orient": "top", "title": "Comoving scale [h₇₀⁻¹Mpc]",
            "values": [0, 10, 20, 30, 40, 50, 60, 70],
            "format": "d",
            "labelPadding": 5,
            "titleX": 357.5, "titleY": -52, "titleBaseline": "middle", "titleAlign": "center"
          }
        },
        "y": {
          "field": "mpc_y", "type": "quantitative",
          "scale": {"domain": [0, 58.33], "nice": false, "zero": false},
          "axis": {
            "orient": "right", "title": "Comoving scale [h₇₀⁻¹Mpc]",
            "values": [0, 10, 20, 30, 40, 50],
            "format": "d",
            "labelPadding": 21,
            "titleX": 81, "titleY": 270, "titleAngle": 270, "titleBaseline": "middle", "titleAlign": "center"
          }
        }
      },
      "layer": [
        {
          "data": {"name": "mpc_x_ticks"},
          "mark": {"type": "rule", "color": "#111111", "strokeWidth": 1.6, "opacity": 1},
          "encoding": {"y": {"datum": 58.33, "type": "quantitative"}, "y2": {"datum": 57.9}}
        },
        {
          "data": {"name": "mpc_x_ticks"},
          "transform": [{"filter": "datum.mpc_x % 10 === 0"}],
          "mark": {"type": "rule", "color": "#111111", "strokeWidth": 1.6, "opacity": 1},
          "encoding": {"y": {"datum": 58.33, "type": "quantitative"}, "y2": {"datum": 57.47}}
        },
        {
          "data": {"name": "mpc_y_ticks"},
          "mark": {"type": "rule", "color": "#111111", "strokeWidth": 1.6, "opacity": 1},
          "encoding": {"x": {"datum": 75, "type": "quantitative"}, "x2": {"datum": 74.58}}
        },
        {
          "data": {"name": "mpc_y_ticks"},
          "transform": [{"filter": "datum.mpc_y % 10 === 0"}],
          "mark": {"type": "rule", "color": "#111111", "strokeWidth": 1.6, "opacity": 1},
          "encoding": {"x": {"datum": 75, "type": "quantitative"}, "x2": {"datum": 74.16}}
        }
      ]
    }
  ],
  "resolve": {"scale": {"x": "independent", "y": "independent"}}
}
